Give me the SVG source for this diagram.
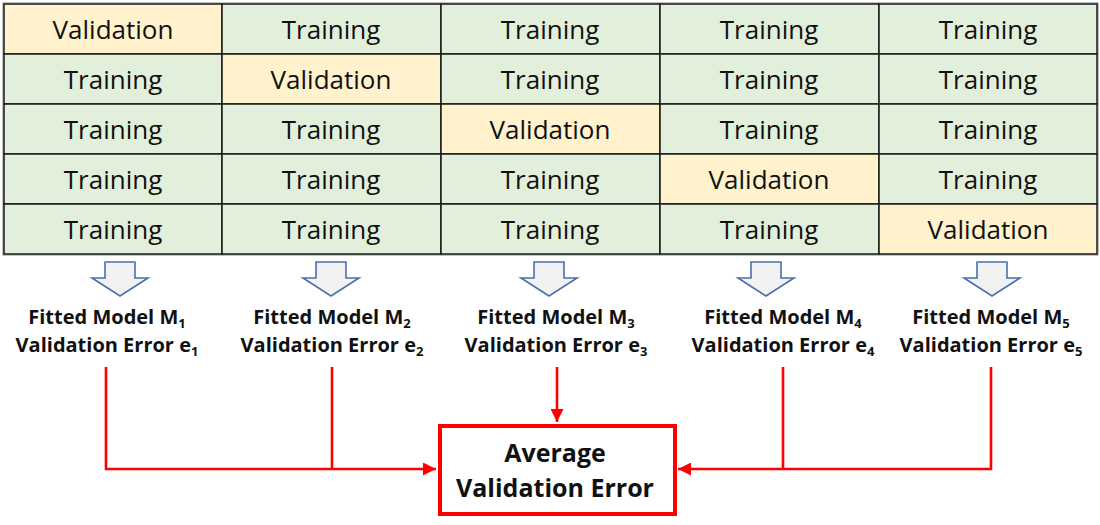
<svg xmlns="http://www.w3.org/2000/svg" width="1100" height="525" viewBox="0 0 1100 525">
<style>
.tr{fill:#e2efda;stroke:#1a1a1a;stroke-width:1.5}
.va{fill:#fff2cc;stroke:#1a1a1a;stroke-width:1.5}
.ct{font-family:"Open Sans","Noto Sans",sans-serif;font-size:26px;fill:#111;text-anchor:middle}
.dn{fill:#f2f2f2;stroke:#4a6fae;stroke-width:1.6;stroke-linejoin:miter}
.lb{font-family:"Open Sans","Noto Sans",sans-serif;font-size:20px;font-weight:bold;fill:#111;text-anchor:middle}
.sb{font-size:13px}
.cn{fill:none;stroke:#ff0000;stroke-width:2.6}
.bx{fill:#ffffff;stroke:#ff0000;stroke-width:4}
.bt{font-family:"Open Sans","Noto Sans",sans-serif;font-size:25px;font-weight:bold;fill:#111;text-anchor:middle}
</style>
<defs>
<marker id="ah" viewBox="0 0 10 10" refX="10" refY="5" markerWidth="5" markerHeight="5" markerUnits="strokeWidth" orient="auto">
<path d="M0,0 L10,5 L0,10 Z" fill="#ff0000"/>
</marker>
<path id="darrow" d="M-15,0 H15 V16 H28 L0,34 L-28,16 H-15 Z"/>
</defs>
<rect x="3" y="3" width="1095" height="252" fill="none" stroke="#888" stroke-width="1"/>
<g id="table">
<g id="row1">
<rect class="va" x="4" y="4" width="218" height="50"/><text class="ct" x="113" y="39">Validation</text>
<rect class="tr" x="222" y="4" width="219" height="50"/><text class="ct" x="331" y="39">Training</text>
<rect class="tr" x="441" y="4" width="219" height="50"/><text class="ct" x="550" y="39">Training</text>
<rect class="tr" x="660" y="4" width="219" height="50"/><text class="ct" x="769" y="39">Training</text>
<rect class="tr" x="879" y="4" width="218" height="50"/><text class="ct" x="988" y="39">Training</text>
</g>
<g id="row2">
<rect class="tr" x="4" y="54" width="218" height="50"/><text class="ct" x="113" y="89">Training</text>
<rect class="va" x="222" y="54" width="219" height="50"/><text class="ct" x="331" y="89">Validation</text>
<rect class="tr" x="441" y="54" width="219" height="50"/><text class="ct" x="550" y="89">Training</text>
<rect class="tr" x="660" y="54" width="219" height="50"/><text class="ct" x="769" y="89">Training</text>
<rect class="tr" x="879" y="54" width="218" height="50"/><text class="ct" x="988" y="89">Training</text>
</g>
<g id="row3">
<rect class="tr" x="4" y="104" width="218" height="50"/><text class="ct" x="113" y="139">Training</text>
<rect class="tr" x="222" y="104" width="219" height="50"/><text class="ct" x="331" y="139">Training</text>
<rect class="va" x="441" y="104" width="219" height="50"/><text class="ct" x="550" y="139">Validation</text>
<rect class="tr" x="660" y="104" width="219" height="50"/><text class="ct" x="769" y="139">Training</text>
<rect class="tr" x="879" y="104" width="218" height="50"/><text class="ct" x="988" y="139">Training</text>
</g>
<g id="row4">
<rect class="tr" x="4" y="154" width="218" height="50"/><text class="ct" x="113" y="189">Training</text>
<rect class="tr" x="222" y="154" width="219" height="50"/><text class="ct" x="331" y="189">Training</text>
<rect class="tr" x="441" y="154" width="219" height="50"/><text class="ct" x="550" y="189">Training</text>
<rect class="va" x="660" y="154" width="219" height="50"/><text class="ct" x="769" y="189">Validation</text>
<rect class="tr" x="879" y="154" width="218" height="50"/><text class="ct" x="988" y="189">Training</text>
</g>
<g id="row5">
<rect class="tr" x="4" y="204" width="218" height="50"/><text class="ct" x="113" y="239">Training</text>
<rect class="tr" x="222" y="204" width="219" height="50"/><text class="ct" x="331" y="239">Training</text>
<rect class="tr" x="441" y="204" width="219" height="50"/><text class="ct" x="550" y="239">Training</text>
<rect class="tr" x="660" y="204" width="219" height="50"/><text class="ct" x="769" y="239">Training</text>
<rect class="va" x="879" y="204" width="218" height="50"/><text class="ct" x="988" y="239">Validation</text>
</g>
</g>
<g id="down-arrows">
<use href="#darrow" class="dn" x="120" y="262"/>
<use href="#darrow" class="dn" x="331" y="262"/>
<use href="#darrow" class="dn" x="549" y="262"/>
<use href="#darrow" class="dn" x="766" y="262"/>
<use href="#darrow" class="dn" x="992" y="262"/>
</g>
<g id="model1"><text class="lb" x="107" y="324">Fitted Model M<tspan class="sb" dy="4">1</tspan></text><text class="lb" x="107" y="352">Validation Error e<tspan class="sb" dy="4">1</tspan></text></g>
<g id="model2"><text class="lb" x="332" y="324">Fitted Model M<tspan class="sb" dy="4">2</tspan></text><text class="lb" x="332" y="352">Validation Error e<tspan class="sb" dy="4">2</tspan></text></g>
<g id="model3"><text class="lb" x="556" y="324">Fitted Model M<tspan class="sb" dy="4">3</tspan></text><text class="lb" x="556" y="352">Validation Error e<tspan class="sb" dy="4">3</tspan></text></g>
<g id="model4"><text class="lb" x="783" y="324">Fitted Model M<tspan class="sb" dy="4">4</tspan></text><text class="lb" x="783" y="352">Validation Error e<tspan class="sb" dy="4">4</tspan></text></g>
<g id="model5"><text class="lb" x="991" y="324">Fitted Model M<tspan class="sb" dy="4">5</tspan></text><text class="lb" x="991" y="352">Validation Error e<tspan class="sb" dy="4">5</tspan></text></g>
<g id="connectors">
<path class="cn" d="M106,367 V469 H436" marker-end="url(#ah)"/>
<path class="cn" d="M332,367 V469"/>
<path class="cn" d="M557,367 V422" marker-end="url(#ah)"/>
<path class="cn" d="M991,367 V469 H678" marker-end="url(#ah)"/>
<path class="cn" d="M783,367 V469"/>
</g>
<g id="average">
<rect class="bx" x="440" y="426" width="235" height="88"/>
<text class="bt" x="555" y="462">Average</text>
<text class="bt" x="555" y="497">Validation Error</text>
</g>
</svg>
